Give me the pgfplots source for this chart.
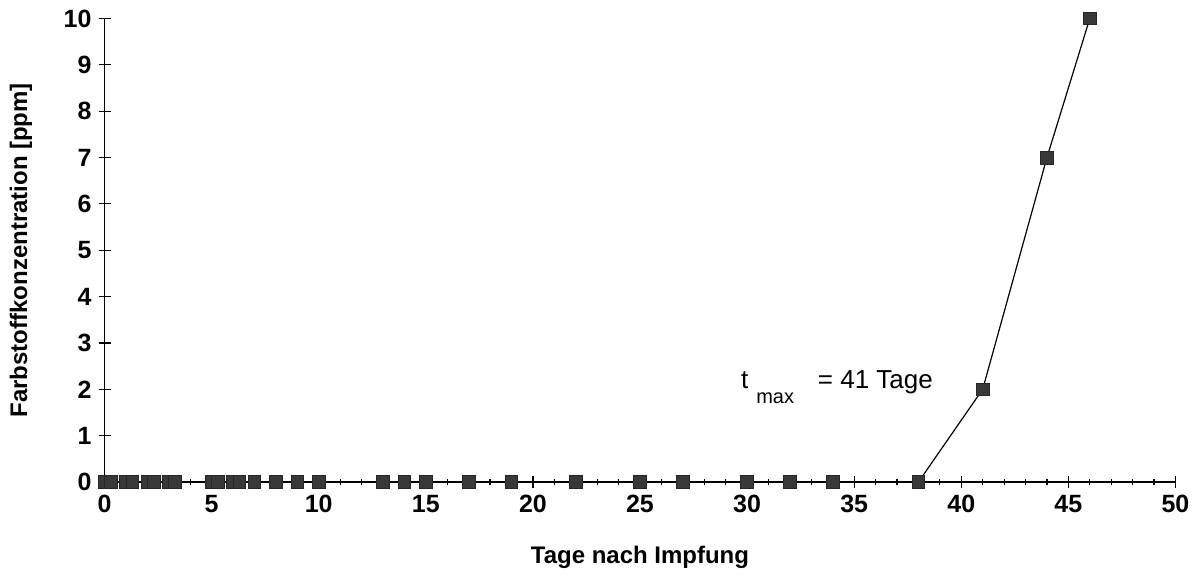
\documentclass[border=0pt]{standalone}
\usepackage{pgfplots}
\pgfplotsset{compat=1.18}
\usepackage{fontspec}
\setmainfont{Liberation Sans}
\begin{document}
\begin{tikzpicture}[x=0.5pt,y=0.5pt]
\begin{axis}[
  at={(103,101)}, anchor=origin,
  scale only axis, width=536pt, height=232pt,
  xmin=0, xmax=50, ymin=0, ymax=10,
  axis x line=bottom, axis y line=left,
  axis line style={-, line width=0.9pt},
  xtick={0,5,...,50}, ytick={0,1,...,10},
  minor x tick num=4,
  tick align=center,
  major tick length=6pt, minor tick length=3pt,
  every tick/.style={black, line width=0.6pt},
  tick label style={font=\bfseries\fontsize{12.5}{14}\selectfont},
  /pgf/number format/assume math mode=true,
  xlabel={\bfseries Tage nach Impfung},
  ylabel={\bfseries Farbstoffkonzentration [ppm]},
  label style={font=\bfseries\fontsize{12}{14}\selectfont},
  xlabel shift=10pt,
  ylabel shift=9pt,
  clip=false,
]
\addplot[black, line width=0.6pt, mark=square*, mark size=3.2pt,
  mark options={fill=black!78, draw=black!85, line width=0.4pt}]
  coordinates {
  (0,0) (0.3,0) (1,0) (1.3,0) (2,0) (2.3,0) (3,0) (3.3,0)
  (5,0) (5.3,0) (6,0) (6.3,0) (7,0) (8,0) (9,0) (10,0)
  (13,0) (14,0) (15,0) (17,0) (19,0) (22,0) (25,0) (27,0)
  (30,0) (32,0) (34,0) (38,0) (41,2) (44,7) (46,10)
  };
\node[anchor=west, font=\fontsize{13}{15}\selectfont, inner sep=0pt] at (axis cs:29.7,2.05)
  {t\hspace{4pt}\raisebox{-1.1ex}{\fontsize{10}{12}\selectfont max}\hspace{12pt}= 41 Tage};
\end{axis}
\path (current bounding box.west) ++(-1.5pt,0) coordinate (padL);
\path (padL) -- (current bounding box.east);
\path (current bounding box.north) ++(0,1.5pt) coordinate (padT);
\path (padT) -- (current bounding box.south);
\path (current bounding box.south) ++(0,-5pt) coordinate (padB);
\path (padB) -- (current bounding box.north);
\end{tikzpicture}
\end{document}
